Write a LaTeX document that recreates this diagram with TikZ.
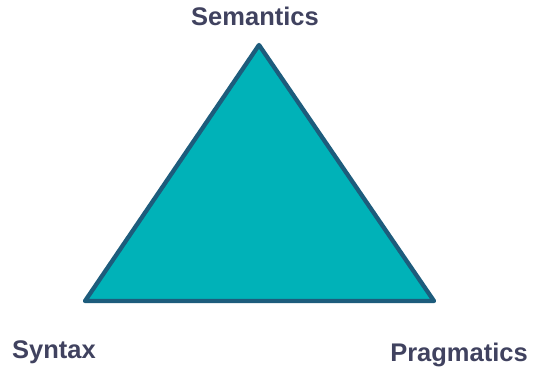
\documentclass[tikz,border=0pt]{standalone}
\usepackage{fontspec}
\setmainfont{Liberation Sans}
\definecolor{fillteal}{HTML}{00B2B8}
\definecolor{edgeblue}{HTML}{1D5C7C}
\definecolor{labelcol}{HTML}{40425F}
\begin{document}
\begin{tikzpicture}[x=1pt,y=-1pt,
  lbl/.style={font=\fontsize{25.5}{30}\selectfont\bfseries, text=labelcol, inner sep=0pt, anchor=base}]
\useasboundingbox (0,0) rectangle (533,368);
\coordinate (top) at (259,45);
\coordinate (bl) at (85,301);
\coordinate (br) at (434,301);
\filldraw[fill=fillteal, draw=edgeblue, line width=4.3pt, line join=round] (top) -- (bl) -- (br) -- cycle;
\node[lbl] (sem) at (255,25) {Semantics};
\node[lbl] (syn) at (54,358) {Syntax};
\node[lbl] (prag) at (459,361) {Pragmatics};
\end{tikzpicture}
\end{document}
